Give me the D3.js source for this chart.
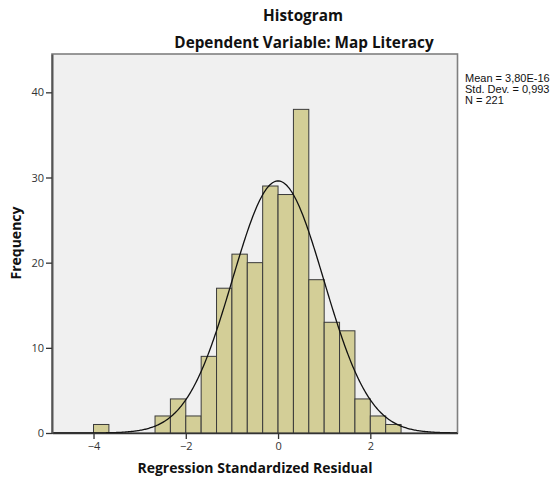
<!DOCTYPE html>
<html>
<head>
<meta charset="utf-8">
<script src="https://cdn.jsdelivr.net/npm/d3@7"></script>
<style>
  body { margin: 0; background: #fff; }
  text { font-family: "Open Sans", "Liberation Sans", sans-serif; }
  .tick text { fill: #333; font-size: 11px; }
  .bar { fill: #d3ce97; stroke: #3a3a3a; stroke-width: 1; }
  .curve { fill: none; stroke: #111; stroke-width: 1.3; }
  .title { font-weight: bold; font-size: 15.3px; fill: #111; }
  .axisLabel { font-weight: bold; font-size: 14px; fill: #111; }
  .legend { font-family: "Liberation Sans", Arial, sans-serif; font-size: 11px; fill: #111; }
</style>
</head>
<body>
<div id="chart"></div>
<script>
"use strict";

// bin lower edges (width 1/3) and counts
var binWidth = 1 / 3;
var binStarts = [-4, -8/3, -7/3, -2, -5/3, -4/3, -1, -2/3, -1/3, 0, 1/3, 2/3, 1, 4/3, 5/3, 2, 7/3];
var counts = [1, 2, 4, 2, 9, 17, 21, 20, 29, 28, 38, 18, 13, 12, 4, 2, 1];

var xTicks = [-4, -2, 0, 2];
var yTicks = [0, 10, 20, 30, 40];

var statMean = 3.8e-16;
var statSd = 0.993;
var statN = 221;
var legendLines = ["Mean = 3,80E-16", "Std. Dev. = 0,993", "N = 221"];

function histogram(w, h) {
  var left = 52, right = 457.5, top = 54, bottom = 433;

  //Scale functions
  var xScale = d3.scaleLinear()
    .domain([-4.9, 3.89])
    .range([left, right]);

  var yScale = d3.scaleLinear()
    .domain([0, 44.5])
    .range([bottom, top]);

  var svg = d3.select("#chart")
    .append("svg")
    .attr("width", w)
    .attr("height", h);

  //plot background with light frame on top/right
  svg.append("rect")
    .attr("x", left)
    .attr("y", top)
    .attr("width", right - left)
    .attr("height", bottom - top)
    .attr("fill", "#f0f0f0")
    .attr("stroke", "#808080")
    .attr("stroke-width", 1.6);

  //bars
  svg.selectAll(".bar")
    .data(counts)
    .enter()
    .append("rect")
    .attr("class", "bar")
    .attr("x", function (d, i) { return xScale(binStarts[i]); })
    .attr("y", function (d) { return yScale(d); })
    .attr("width", function (d, i) { return xScale(binStarts[i] + binWidth) - xScale(binStarts[i]); })
    .attr("height", function (d) { return yScale(0) - yScale(d); });

  //normal curve from mean, sd, N
  var xs = d3.range(-4.9, 3.891, 0.02);
  var line = d3.line()
    .x(function (d) { return xScale(d); })
    .y(function (d) {
      var z = (d - statMean) / statSd;
      return yScale(statN * binWidth * Math.exp(-0.5 * z * z) / (statSd * Math.sqrt(2 * Math.PI)));
    });

  svg.append("path")
    .datum(xs)
    .attr("class", "curve")
    .attr("d", line);

  //axes
  var xAxis = d3.axisBottom(xScale)
    .tickValues(xTicks)
    .tickSize(6)
    .tickSizeOuter(0)
    .tickPadding(3);

  var yAxis = d3.axisLeft(yScale)
    .tickValues(yTicks)
    .tickSize(6)
    .tickSizeOuter(0)
    .tickPadding(2);

  var gx = svg.append("g")
    .attr("transform", "translate(0," + bottom + ")")
    .call(xAxis);
  gx.select(".domain").attr("stroke", "#333").attr("stroke-width", 1.5);
  gx.selectAll(".tick line").attr("stroke", "#333").attr("stroke-width", 1.3);

  var gy = svg.append("g")
    .attr("transform", "translate(" + left + ",0)")
    .call(yAxis);
  gy.select(".domain").attr("stroke", "#555").attr("stroke-width", 2);
  gy.selectAll(".tick line").attr("stroke", "#333").attr("stroke-width", 1.3);

  //titles
  svg.append("text")
    .attr("class", "title")
    .attr("x", 303)
    .attr("y", 21)
    .attr("text-anchor", "middle")
    .text("Histogram");

  svg.append("text")
    .attr("class", "title")
    .attr("x", 304)
    .attr("y", 48)
    .attr("text-anchor", "middle")
    .text("Dependent Variable: Map Literacy");

  //axis labels
  svg.append("text")
    .attr("class", "axisLabel")
    .attr("x", 255)
    .attr("y", 473)
    .attr("text-anchor", "middle")
    .text("Regression Standardized Residual");

  svg.append("text")
    .attr("class", "axisLabel")
    .attr("transform", "translate(21,243) rotate(-90)")
    .attr("text-anchor", "middle")
    .text("Frequency");

  //legend
  svg.selectAll(".legend")
    .data(legendLines)
    .enter()
    .append("text")
    .attr("class", "legend")
    .attr("x", 465)
    .attr("y", function (d, i) { return 82 + i * 11; })
    .text(function (d) { return d; });
}

function init() {
  histogram(555, 480);
}

window.onload = init;
</script>
</body>
</html>
